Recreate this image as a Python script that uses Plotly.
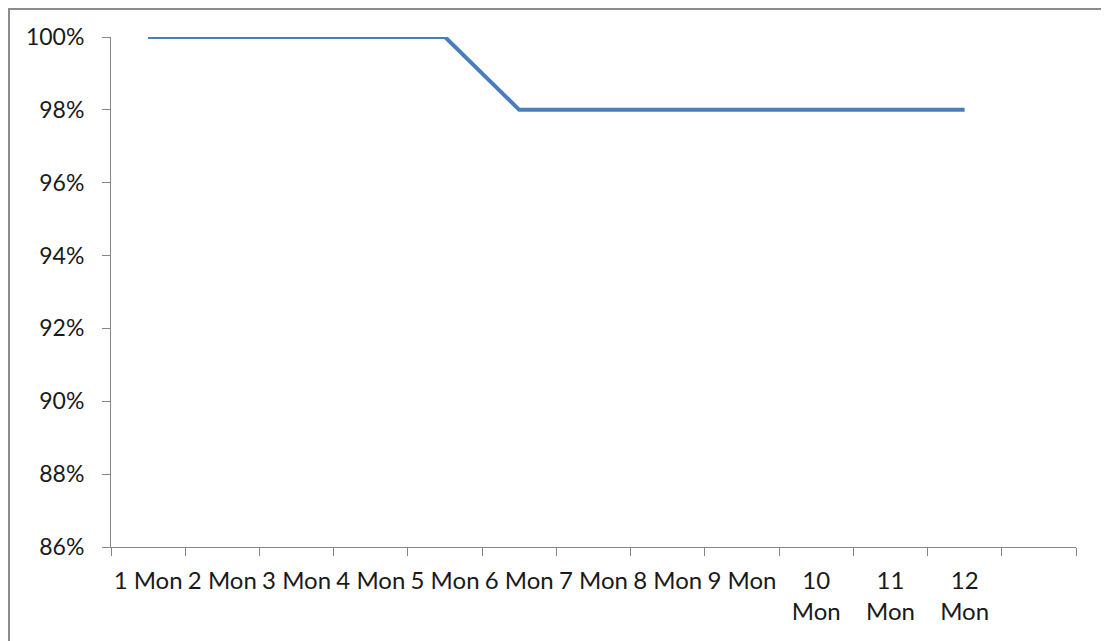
import plotly.graph_objects as go

months = ["1 Mon", "2 Mon", "3 Mon", "4 Mon", "5 Mon", "6 Mon",
          "7 Mon", "8 Mon", "9 Mon", "10 Mon", "11 Mon", "12 Mon"]
tick_labels = ["1 Mon", "2 Mon", "3 Mon", "4 Mon", "5 Mon", "6 Mon",
               "7 Mon", "8 Mon", "9 Mon", "10<br>Mon", "11<br>Mon", "12<br>Mon"]
values = [1.00, 1.00, 1.00, 1.00, 1.00, 0.98, 0.98, 0.98, 0.98, 0.98, 0.98, 0.98]
y_ticks = [0.86, 0.88, 0.90, 0.92, 0.94, 0.96, 0.98, 1.00]

blank = " "
cats = months + [blank]

fig = go.Figure()
fig.add_trace(go.Scatter(
    x=months, y=values, mode="lines",
    line=dict(color="#4A7EBB", width=4),
    showlegend=False, hoverinfo="skip",
))

axis_color = "#868686"
text_color = "#1a1a1a"
family = "Lato, Open Sans, sans-serif"

W, H = 1109, 641
L, T = 103, 29
PW, PH = 965, 510

fig.update_layout(
    width=W, height=H,
    margin=dict(l=L, r=W - L - PW, t=T, b=H - T - PH),
    plot_bgcolor="white", paper_bgcolor="white",
    font=dict(family=family, size=24, color=text_color),
    xaxis=dict(
        type="category", categoryorder="array", categoryarray=cats,
        range=[-0.5, len(cats) - 0.5],
        tickmode="array", tickvals=cats, ticktext=tick_labels + [""],
        tickson="boundaries", ticks="outside", ticklen=8, tickangle=0,
        tickcolor=axis_color, showline=True, linecolor=axis_color,
        linewidth=1, showgrid=False, zeroline=False, automargin=False,
        ticklabelstandoff=12,
        tickfont=dict(family=family, size=24, color=text_color),
    ),
    yaxis=dict(
        range=[y_ticks[0], y_ticks[-1]], tickvals=y_ticks,
        tickformat=".0%", ticks="outside", ticklen=8,
        tickcolor=axis_color, showline=True, linecolor=axis_color,
        linewidth=1, showgrid=False, zeroline=False, automargin=False,
        ticklabelstandoff=13,
        tickfont=dict(family=family, size=23, color=text_color),
    ),
    shapes=[dict(
        type="rect", xref="paper", yref="paper",
        x0=1 / PW - L / PW, x1=(1097 - L) / PW,
        y0=-0.5, y1=(T + PH - 1) / PH,
        line=dict(color="#8C8C8C", width=2), fillcolor="rgba(0,0,0,0)",
        layer="below",
    )],
)

fig.write_html("out.html")
